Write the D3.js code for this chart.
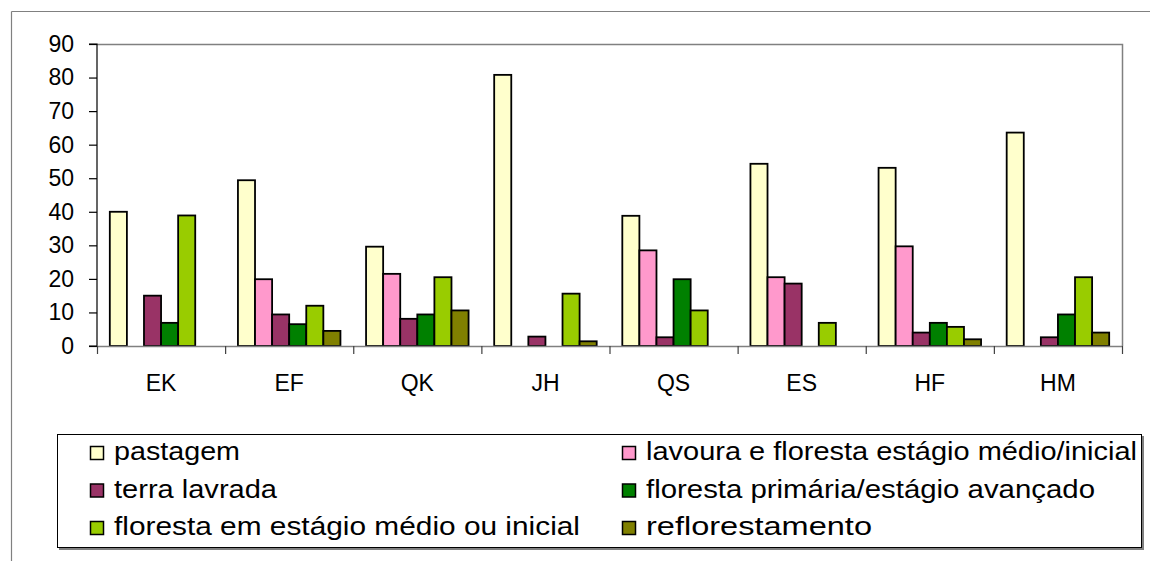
<!DOCTYPE html>
<html>
<head>
<meta charset="utf-8">
<script src="https://cdn.jsdelivr.net/npm/d3@7"></script>
<style>
  html, body { margin: 0; padding: 0; background: #fff; }
  svg { display: block; }
  text { font-family: "Liberation Sans", Arial, sans-serif; fill: #000; }
</style>
</head>
<body>
<svg id="chart" width="1150" height="561"></svg>
<script>
const categories = ["EK", "EF", "QK", "JH", "QS", "ES", "HF", "HM"];
const seriesNames = [
  "pastagem",
  "lavoura e floresta estágio médio/inicial",
  "terra lavrada",
  "floresta primária/estágio avançado",
  "floresta em estágio médio ou inicial",
  "reflorestamento"
];
const pastagem  = [40.0, 49.4, 29.6, 80.8, 38.8, 54.3, 53.1, 63.6];
const lavoura   = [null, 19.9, 21.5, null, 28.5, 20.5, 29.7, null];
const terra     = [15.0, 9.4, 8.1, 2.8, 2.6, 18.6, 4.0, 2.6];
const primaria  = [6.9, 6.5, 9.4, null, 19.9, null, 6.9, 9.4];
const media     = [38.9, 12.0, 20.5, 15.6, 10.6, 6.9, 5.7, 20.5];
const reflor    = [null, 4.5, 10.6, 1.4, null, null, 2.0, 4.0];
const seriesColors = ["#FFFFCC", "#FF99CC", "#993366", "#008000", "#99CC00", "#808000"];
const yTicks = [0, 10, 20, 30, 40, 50, 60, 70, 80, 90];

const seriesValues = [pastagem, lavoura, terra, primaria, media, reflor];

const svg = d3.select("#chart");

// outer chart border
svg.append("line").attr("x1", 11.5).attr("y1", 11.5).attr("x2", 1150).attr("y2", 11.5)
  .attr("stroke", "#808080").attr("stroke-width", 1.2);
svg.append("line").attr("x1", 11.5).attr("y1", 11.5).attr("x2", 11.5).attr("y2", 561)
  .attr("stroke", "#808080").attr("stroke-width", 1.2);

const L = 97, R = 1122, T = 44, B = 346;

const x0 = d3.scaleBand().domain(categories).range([L, R]).padding(0);
const x1 = d3.scaleBand().domain(d3.range(seriesNames.length))
  .range([0, x0.bandwidth()]).paddingInner(0).paddingOuter(0.75);
const y = d3.scaleLinear().domain([0, 90]).range([B, T]);

// plot area border (top & right)
svg.append("path")
  .attr("d", `M${L},${T + 0.5}H${R + 0.5}V${B}`)
  .attr("fill", "none").attr("stroke", "#808080").attr("stroke-width", 1.5);

// bars
const g = svg.append("g");
categories.forEach((c, ci) => {
  seriesValues.forEach((vals, si) => {
    const v = vals[ci];
    if (v == null) return;
    g.append("rect")
      .attr("x", x0(c) + x1(si))
      .attr("y", y(v))
      .attr("width", x1.bandwidth())
      .attr("height", y(0) - y(v))
      .attr("fill", seriesColors[si])
      .attr("stroke", "#000")
      .attr("stroke-width", 1.8);
  });
});

// y axis
const yAxis = d3.axisLeft(y).tickValues(yTicks).tickSize(8).tickPadding(15);
const yg = svg.append("g").attr("transform", `translate(${L},0)`).call(yAxis);
yg.select(".domain").attr("stroke", "#000").attr("stroke-width", 1.2).attr("d", `M-8,${T}H0V${B}H-8`);
yg.selectAll(".tick line").attr("stroke", "#000").attr("stroke-width", 1.2);
yg.selectAll(".tick text").attr("font-size", 23).attr("font-family", "Liberation Sans, Arial, sans-serif").attr("fill", "#000");

// x axis
const xAxis = d3.axisBottom(x0).tickSize(0).tickPadding(0);
const xg = svg.append("g").attr("transform", `translate(0,${B})`).call(xAxis);
xg.select(".domain").attr("stroke", "#808080").attr("stroke-width", 1.5).attr("d", `M${L},0.5H${R}`);
xg.selectAll(".tick text").attr("font-size", 23).attr("dy", 0).attr("y", 45)
  .attr("font-family", "Liberation Sans, Arial, sans-serif").attr("fill", "#000");
// category separator ticks
const bounds = categories.map(c => x0(c)).concat([R]);
xg.selectAll(".sep").data(bounds).enter().append("line")
  .attr("x1", d => d + 0.5).attr("x2", d => d + 0.5).attr("y1", 0).attr("y2", 8)
  .attr("stroke", "#404040").attr("stroke-width", 1.2);

// legend
const lg = svg.append("g");
lg.append("rect").attr("x", 59).attr("y", 436).attr("width", 1085).attr("height", 114).attr("fill", "#808080");
lg.append("rect").attr("x", 57.5).attr("y", 434.5).attr("width", 1084).attr("height", 113)
  .attr("fill", "#fff").attr("stroke", "#000").attr("stroke-width", 1);

const legendPos = [
  {x: 90, ty: 460, w: 126},
  {x: 622, ty: 460, w: 491},
  {x: 90, ty: 497.5, w: 163},
  {x: 622, ty: 497.5, w: 449},
  {x: 90, ty: 535, w: 466},
  {x: 622, ty: 535, w: 226}
];
seriesNames.forEach((name, i) => {
  const p = legendPos[i];
  lg.append("rect").attr("x", p.x + 0.5).attr("y", p.ty - 13.5).attr("width", 13).attr("height", 13)
    .attr("fill", seriesColors[i]).attr("stroke", "#000").attr("stroke-width", 1.5);
  lg.append("text").attr("x", p.x + 24).attr("y", p.ty)
    .attr("font-size", 26)
    .attr("textLength", p.w).attr("lengthAdjust", "spacingAndGlyphs")
    .text(name);
});
</script>
</body>
</html>
